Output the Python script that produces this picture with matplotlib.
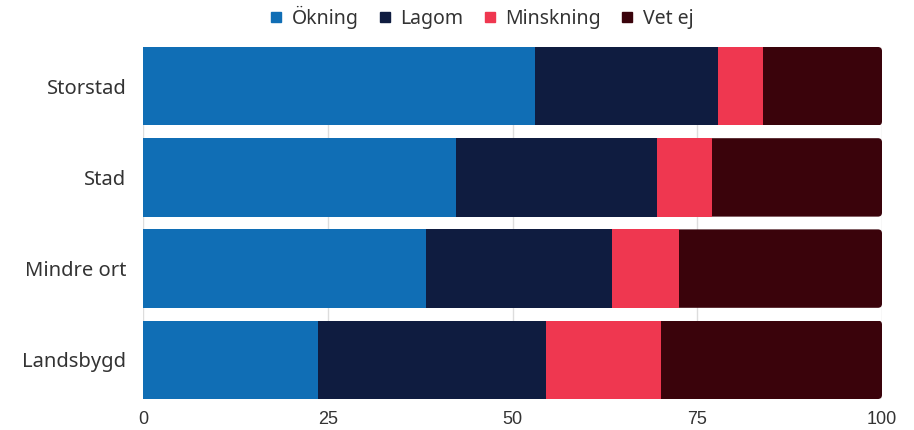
import matplotlib.pyplot as plt
from matplotlib.patches import FancyBboxPatch
from matplotlib.lines import Line2D

# data
categories = ["Storstad", "Stad", "Mindre ort", "Landsbygd"]
series_names = ["Ökning", "Lagom", "Minskning", "Vet ej"]
okning = [53.0, 42.4, 38.3, 23.7]
lagom = [24.8, 27.2, 25.2, 30.8]
minskning = [6.1, 7.4, 9.0, 15.6]
vet_ej = [16.1, 23.0, 27.5, 29.9]
xticks = [0, 25, 50, 75, 100]

colors = ["#106EB5", "#0F1C40", "#EF3750", "#3A030B"]
label_font = ['Noto Sans', 'DejaVu Sans']
txt_col = "#333333"

plt.rcParams['font.family'] = ['Liberation Sans', 'DejaVu Sans']

fig = plt.figure(figsize=(9.14, 4.3), dpi=100)
ax = fig.add_axes([143 / 914, 1 - 399 / 430, (882 - 143) / 914, (399 - 47) / 430])

h = 0.86
y = list(range(len(categories)))

start = [0] * len(categories)
for vals, col in zip([okning, lagom, minskning], colors[:3]):
    ax.barh(y, vals, left=start, height=h, color=col, zorder=3)
    start = [s + v for s, v in zip(start, vals)]

# last segment, right end rounded through a clip box
px_x = (882 - 143) / 100.0
px_y = 91.0
bars = ax.barh(y, vet_ej, left=start, height=h, color=colors[3], zorder=3)
for rect, l, w in zip(bars, start, vet_ej):
    yb = rect.get_y()
    clip = FancyBboxPatch((l - 5, yb), w + 5, h,
                          boxstyle="round,pad=0,rounding_size=0.55",
                          mutation_aspect=px_x / px_y,
                          transform=ax.transData)
    rect.set_clip_path(clip)

ax.set_xlim(0, 100)
ax.set_ylim(len(categories) - 1 + h / 2, -h / 2)
ax.set_xticks(xticks)
ax.set_yticks(y)
ax.set_yticklabels(categories, fontsize=14.5, color=txt_col, family=label_font)
ax.tick_params(axis="both", length=0, colors=txt_col)
ax.tick_params(axis="x", labelsize=13, pad=9)
ax.tick_params(axis="y", pad=12)
for s in ax.spines.values():
    s.set_visible(False)
ax.grid(axis="x", color="#dddddd", linewidth=1, zorder=0)
ax.set_axisbelow(True)

handles = [Line2D([], [], marker="s", linestyle="none", markersize=6.5,
                  markerfacecolor=c, markeredgecolor=c) for c in colors]
fig.legend(handles, series_names, loc="center", bbox_to_anchor=(0.525, 1 - 17 / 430),
           ncol=4, frameon=False, handletextpad=0.3,
           columnspacing=0.85, handlelength=1.0,
           prop={'family': label_font, 'size': 14})
for t in fig.legends[0].get_texts():
    t.set_color(txt_col)

fig.savefig("out.png", dpi=100)
